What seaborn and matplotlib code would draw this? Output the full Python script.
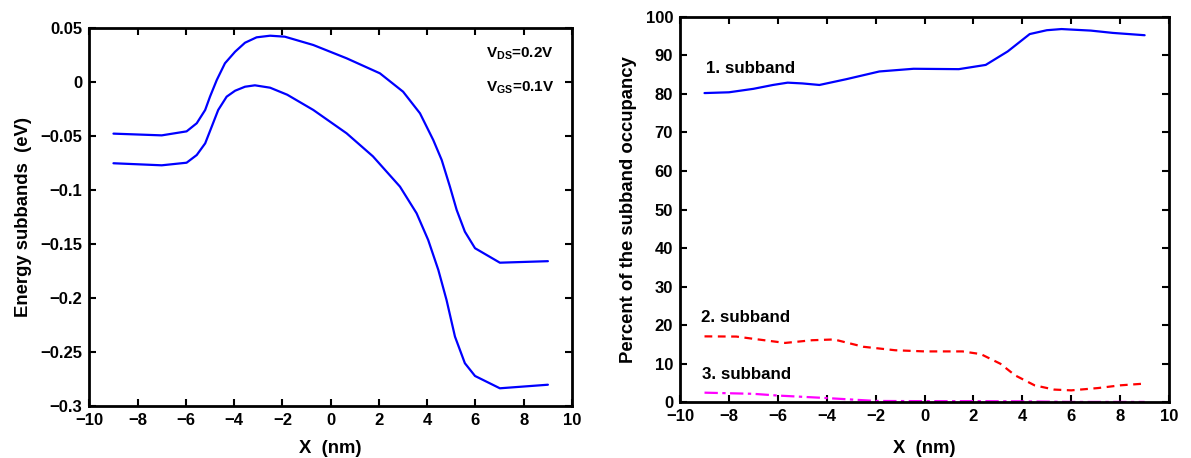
import matplotlib
matplotlib.use("Agg")
import matplotlib.pyplot as plt
from matplotlib.ticker import FuncFormatter
import seaborn as sns
import pandas as pd

# ---- data ----
e1_x = [-9, -7, -5.97, -5.55, -5.2, -5.0, -4.72, -4.38, -3.96, -3.55, -3.07, -2.51, -1.9, -0.72,
        0.66, 2.04, 3.0, 3.7, 4.25, 4.6, 4.94, 5.22, 5.56, 5.98, 7.01, 9]
e1_y = [-0.048, -0.0496, -0.0459, -0.0384, -0.0261, -0.0138, 0.0016, 0.0171, 0.0278, 0.0361, 0.0411,
        0.0426, 0.0417, 0.034, 0.0217, 0.0078, -0.0092, -0.0292, -0.0539, -0.0724, -0.097, -0.1186,
        -0.1387, -0.154, -0.1674, -0.166]
e2_x = [-9, -7, -5.97, -5.55, -5.2, -4.93, -4.66, -4.31, -3.96, -3.55, -3.14, -2.51, -1.8, -0.72,
        0.66, 1.75, 2.87, 3.56, 4.04, 4.46, 4.8, 5.15, 5.56, 5.98, 7.01, 9]
e2_y = [-0.0754, -0.0773, -0.0749, -0.0678, -0.057, -0.0416, -0.0261, -0.0138, -0.0083, -0.0046,
        -0.0033, -0.0055, -0.012, -0.0261, -0.0477, -0.069, -0.097, -0.1217, -0.1464, -0.1741,
        -0.2019, -0.2358, -0.2604, -0.2722, -0.2836, -0.2803]

s1_x = [-9, -8, -7, -6.2, -5.6, -5.0, -4.3, -3.2, -1.85, -0.45, 1.4, 2.5, 3.4, 4.3, 5.0, 5.6, 6.8, 7.7, 9]
s1_y = [80.2, 80.4, 81.3, 82.3, 82.9, 82.7, 82.3, 83.8, 85.8, 86.5, 86.4, 87.5, 91, 95.5, 96.5, 96.8,
        96.4, 95.8, 95.2]
s2_x = [-9, -7.7, -6.8, -5.7, -4.6, -3.7, -2.5, -1.2, 0, 1.55, 2.3, 3.1, 3.7, 4.5, 5.3, 6, 7.1, 8, 9]
s2_y = [17.1, 17.05, 16.3, 15.4, 16.1, 16.3, 14.4, 13.5, 13.2, 13.2, 12.5, 10, 7, 4.4, 3.3, 3.1, 3.7, 4.4, 4.85]
s3_x = [-9, -7, -6, -4, -2, 0, 2, 4, 6, 9]
s3_y = [2.5, 2.2, 1.75, 1.1, 0.35, 0.3, 0.3, 0.25, 0.1, 0.1]

x_ticks = [-10, -8, -6, -4, -2, 0, 2, 4, 6, 8, 10]
left_yticks = [0.05, 0, -0.05, -0.1, -0.15, -0.2, -0.25, -0.3]
right_yticks = [0, 10, 20, 30, 40, 50, 60, 70, 80, 90, 100]

sns.set_style("ticks")
plt.rcParams['font.family'] = ['Liberation Sans', 'DejaVu Sans']
plt.rcParams['font.weight'] = 'bold'
plt.rcParams['axes.labelweight'] = 'bold'
plt.rcParams['text.color'] = 'black'
plt.rcParams['axes.labelcolor'] = 'black'
plt.rcParams['xtick.color'] = 'black'
plt.rcParams['ytick.color'] = 'black'
plt.rcParams['mathtext.fontset'] = 'custom'
plt.rcParams['mathtext.rm'] = 'Liberation Sans:bold'
plt.rcParams['mathtext.bf'] = 'Liberation Sans:bold'
plt.rcParams['mathtext.it'] = 'Liberation Sans:bold'

fig = plt.figure(figsize=(11.91, 4.58), dpi=100)
ax1 = fig.add_axes([0.0750, 0.1135, 0.4053, 0.8260])
ax2 = fig.add_axes([0.5710, 0.1216, 0.4106, 0.8419])

blue = (0, 0, 1)
red = (1, 0, 0)
mag = (1, 0, 1)


def fmt(v, pos):
    s = ('%g' % round(v, 4))
    return s.replace('-', '\u2212')


df1 = pd.DataFrame({'x': e1_x, 'y': e1_y})
df2 = pd.DataFrame({'x': e2_x, 'y': e2_y})
sns.lineplot(data=df1, x='x', y='y', ax=ax1, color=blue, linewidth=1.6, sort=False)
sns.lineplot(data=df2, x='x', y='y', ax=ax1, color=blue, linewidth=1.6, sort=False)

d1 = pd.DataFrame({'x': s1_x, 'y': s1_y})
d2 = pd.DataFrame({'x': s2_x, 'y': s2_y})
d3 = pd.DataFrame({'x': s3_x, 'y': s3_y})
sns.lineplot(data=d1, x='x', y='y', ax=ax2, color=blue, linewidth=1.6, sort=False)
sns.lineplot(data=d2, x='x', y='y', ax=ax2, color=red, linewidth=1.6, sort=False)
ax2.lines[-1].set_linestyle((0, (3.5, 2.5)))
sns.lineplot(data=d3, x='x', y='y', ax=ax2, color=mag, linewidth=1.6, sort=False)
ax2.lines[-1].set_linestyle((0, (6, 2, 1.5, 2)))

for ax in (ax1, ax2):
    ax.set_xlim(-10, 10)
    ax.set_xticks(x_ticks)
    ax.xaxis.set_major_formatter(FuncFormatter(fmt))
    ax.yaxis.set_major_formatter(FuncFormatter(fmt))
    ax.tick_params(direction='in', top=True, right=True, length=5, width=1.5,
                   labelsize=12, pad=5, color='black', labelcolor='black')
    for sp in ax.spines.values():
        sp.set_visible(True)
        sp.set_linewidth(2)
        sp.set_color('black')
    for lab in ax.get_xticklabels() + ax.get_yticklabels():
        lab.set_fontweight('bold')

ax1.set_ylim(-0.3, 0.05)
ax1.set_yticks(left_yticks)
ax1.set_xlabel('X  (nm)', fontsize=13.3, fontweight='bold', labelpad=9)
ax1.set_ylabel('Energy subbands  (eV)', fontsize=13.3, fontweight='bold', labelpad=6)
ax1.text(9.25, 0.0263, r'$\mathrm{V_{DS}}$=0.2V', ha='right', va='center', fontsize=11, fontweight='bold')
ax1.text(9.25, -0.006, r'$\mathrm{V_{GS}}$=0.1V', ha='right', va='center', fontsize=11, fontweight='bold')

ax2.set_ylim(0, 100)
ax2.set_yticks(right_yticks)
ax2.set_xlabel('X  (nm)', fontsize=13.3, fontweight='bold', labelpad=11)
ax2.set_ylabel('Percent of the subband occupancy', fontsize=13.3, fontweight='bold', labelpad=6)
ax2.text(-8.95, 86.5, '1. subband', ha='left', va='center', fontsize=12.2, fontweight='bold')
ax2.text(-9.15, 22, '2. subband', ha='left', va='center', fontsize=12.2, fontweight='bold')
ax2.text(-9.1, 7.3, '3. subband', ha='left', va='center', fontsize=12.2, fontweight='bold')

fig.savefig('out.png', dpi=100, facecolor='white')
